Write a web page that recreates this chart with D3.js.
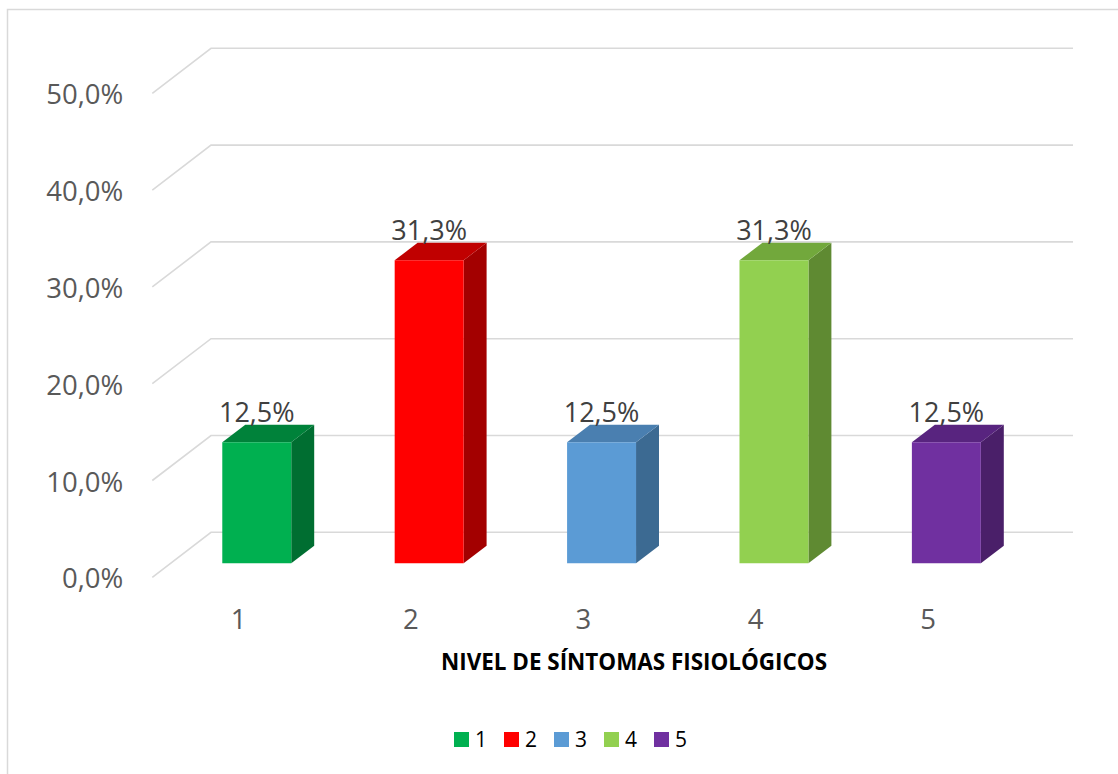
<!DOCTYPE html>
<html><head><meta charset="utf-8">
<script src="https://cdn.jsdelivr.net/npm/d3@7"></script>
<style>body{margin:0;background:#fff}svg{display:block}</style>
</head><body>
<script>
const categories = ["1","2","3","4","5"];
const values = [12.5, 31.3, 12.5, 31.3, 12.5];
const yTicks = [0, 10, 20, 30, 40, 50];
const labels = ["12,5%","31,3%","12,5%","31,3%","12,5%"];
const frontColors = ["#00B050","#FF0000","#5B9BD5","#92D050","#7030A0"];
const topColors   = ["#00823A","#C00000","#4A7FB0","#72A83C","#58247F"];
const sideColors  = ["#006E31","#A30000","#3C6A92","#5F8A32","#4A1F69"];
const axisTitle = "NIVEL DE SÍNTOMAS FISIOLÓGICOS";

const W = 1118, H = 774;
const svg = d3.select("body").append("svg").attr("width", W).attr("height", H);

// frame
svg.append("path").attr("d", `M7.5,${H} V9.5 H${W}`).attr("fill","none").attr("stroke","#D9D9D9").attr("stroke-width",1.5);

// projection: floor front-left origin, depth offset
const ox = 152.3, oy = 577.3, depthDX = 58.7, depthDY = 45;
const x = d3.scaleBand().domain(categories).range([0, 862]).paddingInner(0).paddingOuter(0);
const y = d3.scaleLinear().domain([0, 50]).range([0, 484]);
const P = (px, v, z) => [ox + px + z*depthDX, oy - z*depthDY - y(v)];

// gridlines (floor diagonal + back wall)
const grid = svg.append("g");
yTicks.forEach(t => {
  const a = P(0, t, 0), b = P(0, t, 1), c = P(862, t, 1);
  grid.append("path").attr("d", `M${a[0]},${a[1]} L${b[0]},${b[1]} L${c[0]},${c[1]}`)
    .attr("fill","none").attr("stroke","#D9D9D9").attr("stroke-width",1.6);
});

// y labels
const fmt = d => d.toFixed(1).replace(".", ",") + "%";
yTicks.forEach(t => {
  const a = P(0, t, 0);
  svg.append("text").attr("x", a[0] - 29).attr("y", a[1] + 11)
    .attr("text-anchor","end").attr("font-family","Open Sans, sans-serif")
    .attr("font-size", 27.5).attr("fill","#595959").text(fmt(t));
});

// bars
const zF = 14/45, zB = 31.6/45, bw = 0.4;
categories.forEach((c, i) => {
  const v = values[i];
  const x0 = x(c) + x.bandwidth()*(0.5 - bw/2), x1 = x(c) + x.bandwidth()*(0.5 + bw/2);
  const f0 = P(x0, 0, zF), f1 = P(x1, 0, zF), f2 = P(x1, v, zF), f3 = P(x0, v, zF);
  const b1 = P(x1, 0, zB), b2 = P(x1, v, zB), b3 = P(x0, v, zB);
  const g = svg.append("g");
  g.append("path").attr("d", `M${f1} L${b1} L${b2} L${f2} Z`).attr("fill", sideColors[i]);
  g.append("path").attr("d", `M${f3} L${f2} L${b2} L${b3} Z`).attr("fill", topColors[i]);
  g.append("path").attr("d", `M${f0} L${f1} L${f2} L${f3} Z`).attr("fill", frontColors[i]);
  const cx = (f0[0] + f1[0]) / 2;
  svg.append("text").attr("x", cx).attr("y", b3[1] - 3).attr("text-anchor","middle")
    .attr("font-family","Open Sans, sans-serif").attr("font-size", 27).attr("fill","#404040").text(labels[i]);
  // category label
  const cp = P(x(c) + x.bandwidth()/2, 0, 0);
  svg.append("text").attr("x", cp[0]).attr("y", 629).attr("text-anchor","middle")
    .attr("font-family","Open Sans, sans-serif").attr("font-size", 27.5).attr("fill","#595959").text(c);
});

// axis title
const tt = svg.append("text").attr("x", 634).attr("y", 670).attr("text-anchor","middle")
  .attr("font-family","Open Sans, sans-serif").attr("font-weight","bold").attr("font-size", 23)
  .attr("fill","#000").text(axisTitle);
tt.attr("textLength", 386).attr("lengthAdjust","spacingAndGlyphs");

// legend
categories.forEach((c, i) => {
  const lx = 454 + i*50;
  svg.append("rect").attr("x", lx).attr("y", 732).attr("width", 15).attr("height", 15).attr("fill", frontColors[i]);
  svg.append("text").attr("x", lx + 21).attr("y", 747).attr("font-family","Open Sans, sans-serif")
    .attr("font-size", 21).attr("fill","#000").text(c);
});
</script>
</body></html>
